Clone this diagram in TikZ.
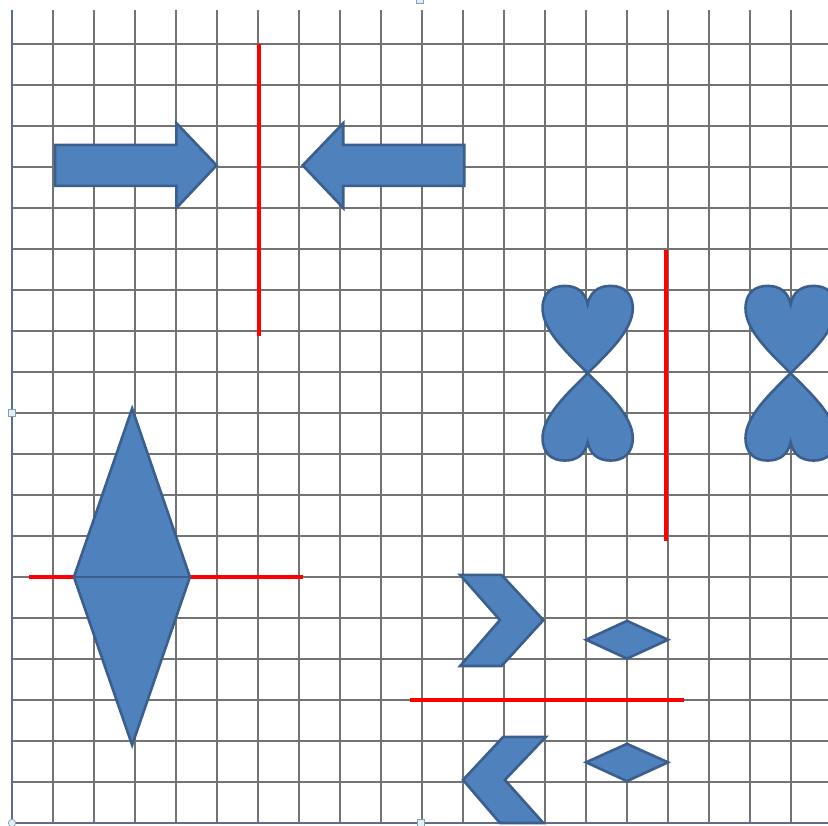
\documentclass[tikz,border=0pt]{standalone}
\usepackage{tikz}
\definecolor{ShapeBlue}{HTML}{4F81BD}
\definecolor{ShapeEdge}{HTML}{3A5F8C}
\definecolor{FrameSlate}{HTML}{5A6F8C}
\definecolor{HandleSky}{HTML}{DDF1F9}

\begin{document}
\begin{tikzpicture}[x=1cm,y=1cm,
    gridline/.style={line width=1.1pt,black!55},
    frame/.style={line width=1.3pt,FrameSlate},
    shp/.style={fill=ShapeBlue,draw=ShapeEdge,line width=1.8pt},
    mirror/.style={red,line width=2.8pt},
    handle/.style={fill=HandleSky,draw=FrameSlate!70,line width=0.5pt}]
  \useasboundingbox (-0.293,-0.049) rectangle (19.902,20.073);
  \clip (-0.293,-0.049) rectangle (19.902,20.073);
  % squared paper
  \foreach \i in {1,...,19} \draw[gridline] (\i,0) -- (\i,19.83);
  \foreach \j in {1,...,19} \draw[gridline] (0,\j) -- (19.95,\j);
  \draw[frame] (0,19.83) -- (0,0) -- (19.95,0);

  % arrows and their mirror
  \draw[mirror] (6.03,19.0) -- (6.03,11.88);
  \draw[shp] (1.05,15.54) -- (4.01,15.54) -- (4.01,15.0) -- (4.99,16.04)
    -- (4.01,17.07) -- (4.01,16.54) -- (1.05,16.54) -- cycle;
  \draw[shp] (11.03,15.54) -- (8.08,15.54) -- (8.08,15.0) -- (7.09,16.04)
    -- (8.08,17.07) -- (8.08,16.54) -- (11.03,16.54) -- cycle;

  % hearts
  \draw[mirror] (15.95,13.98) -- (15.95,6.87);
  \foreach \cx in {14.04,18.99}
    \foreach \s in {1,-1}
      \draw[shp,shift={(\cx,10.97)},yscale=\s] (0,0)
        .. controls (-0.5,0.5) and (-1.1,1.05) .. (-1.1,1.58)
        .. controls (-1.1,1.95) and (-0.88,2.13) .. (-0.56,2.13)
        .. controls (-0.26,2.13) and (-0.06,1.98) .. (0,1.68)
        .. controls (0.06,1.98) and (0.26,2.13) .. (0.56,2.13)
        .. controls (0.88,2.13) and (1.1,1.95) .. (1.1,1.58)
        .. controls (1.1,1.05) and (0.5,0.5) .. cycle;

  % rhombus
  \draw[mirror] (0.42,6) -- (7.09,6);
  \draw[shp] (1.51,6) -- (2.93,10.11) -- (4.34,6) -- (2.93,1.9) -- cycle;
  \draw[ShapeEdge,line width=1.8pt] (1.51,6) -- (4.34,6);

  % chevrons and small rhombi
  \draw[mirror] (9.7,2.99) -- (16.39,2.99);
  \draw[shp] (10.93,6.05) -- (11.94,6.05) -- (12.96,4.95) -- (11.94,3.83)
    -- (10.93,3.83) -- (11.9,4.95) -- cycle;
  \draw[shp] (11.98,2.1) -- (13.02,2.1) -- (12.02,1.05) -- (12.96,0)
    -- (11.9,0) -- (11.0,1.05) -- cycle;
  \draw[shp] (14,4.47) -- (15,4.93) -- (16,4.47) -- (15,4.01) -- cycle;
  \draw[shp] (14,1.48) -- (15,1.93) -- (16,1.48) -- (15,1.02) -- cycle;

  % selection handles
  \draw[handle] (-0.09,9.91) rectangle (0.09,10.09);
  \draw[handle] (9.88,-0.09) rectangle (10.06,0.09);
  \draw[handle] (9.86,19.98) rectangle (10.04,20.16);
  \draw[handle] (0,0) circle (0.09);
\end{tikzpicture}
\end{document}
